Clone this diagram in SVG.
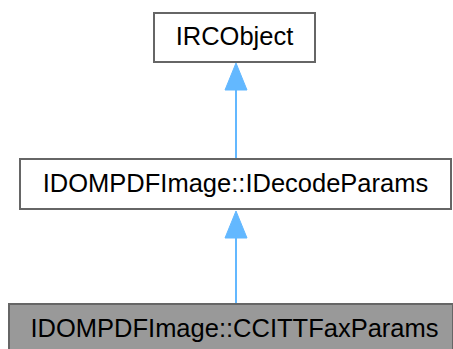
<svg xmlns="http://www.w3.org/2000/svg" width="453" height="349" viewBox="0 0 453 349">
  <style>
    .node rect { stroke: #666666; stroke-width: 2; }
    .plain rect { fill: #ffffff; }
    .current rect { fill: #999999; }
    .node text { font-family: "Liberation Sans", Arial, sans-serif; font-size: 25.5px; fill: #000000; text-anchor: middle; }
    .edge line { stroke: #63b8ff; stroke-width: 2; }
    .edge polygon { fill: #63b8ff; stroke: #63b8ff; stroke-width: 1; }
  </style>
  <!-- inheritance connectors -->
  <g id="edges" class="edge">
    <line x1="236" y1="303" x2="236" y2="237"/>
    <polygon points="225,238 236,211 247,238"/>
    <line x1="236" y1="158" x2="236" y2="89"/>
    <polygon points="225,90 236,63 247,90"/>
  </g>
  <g id="node-ircobject" class="node plain">
    <rect x="154" y="13" width="161" height="49"/>
    <text x="234.5" y="45">IRCObject</text>
  </g>
  <g id="node-idecodeparams" class="node plain">
    <rect x="20" y="159" width="431" height="50"/>
    <text x="235.5" y="192">IDOMPDFImage::IDecodeParams</text>
  </g>
  <g id="node-ccittfaxparams" class="node current">
    <rect x="9" y="304" width="444" height="46"/>
    <text x="234.5" y="337">IDOMPDFImage::CCITTFaxParams</text>
  </g>
</svg>
